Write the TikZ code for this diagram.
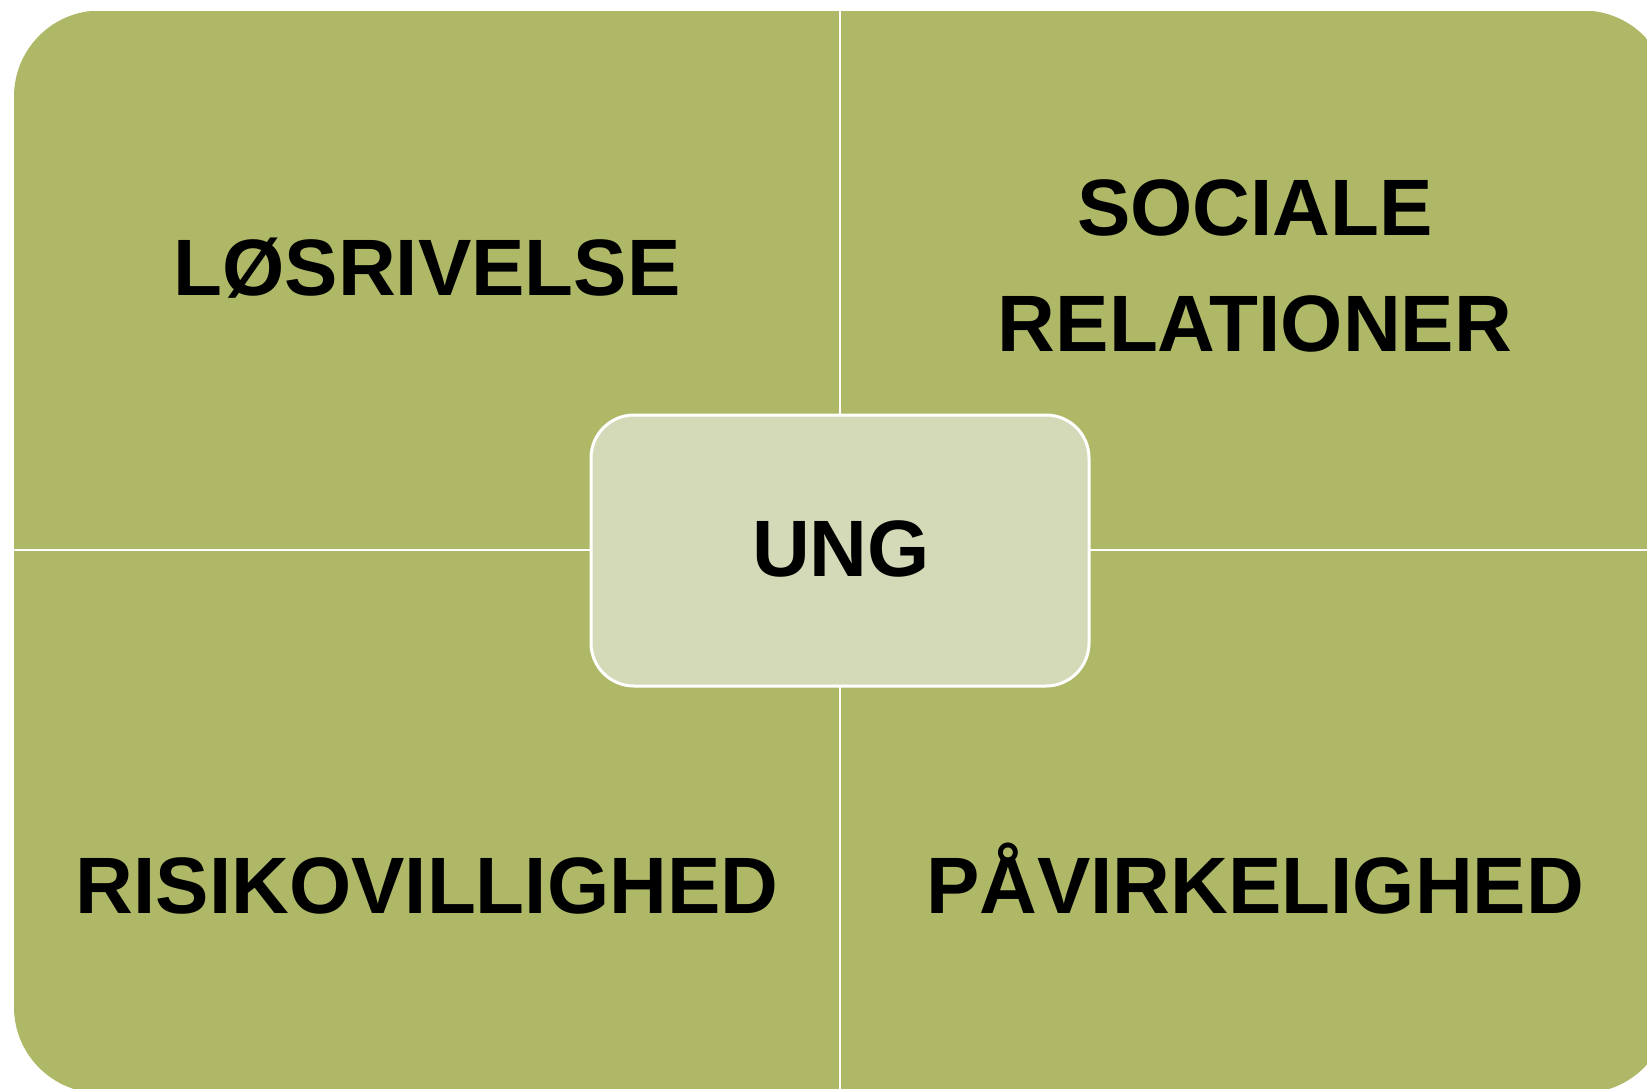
\documentclass[tikz,border=0pt]{standalone}
\usepackage{fontspec}
\setmainfont{Liberation Sans}
\definecolor{quadgreen}{RGB}{175,184,102}
\definecolor{hubgreen}{RGB}{212,218,184}

\begin{document}
\begin{tikzpicture}[x=0.5pt, y=-0.5pt,
		lbl/.style={inner sep=0pt, font=\fontsize{40pt}{58pt}\selectfont\bfseries, align=center},
		gap/.style={draw=white, line width=1.2pt},
		hub/.style={shape=rectangle, rounded corners=21.5pt, fill=hubgreen, draw=white, line width=1.5pt, minimum width=249pt, minimum height=135.5pt, inner sep=0pt}]
		\useasboundingbox (0,0) rectangle (1647,1088);
		
		\begin{scope}
			\clip[rounded corners=43pt] (14,10.5) rectangle (1669,1093);
			\fill[quadgreen] (14,10.5) rectangle (1669,1093);
		\end{scope}
		
		\coordinate (T) at (840,0);
		\coordinate (B) at (840,1100);
		\coordinate (L) at (0,550);
		\coordinate (R) at (1700,550);
		\path[gap](T) edge (B);
		\path[gap](L) edge (R);
		
		\node[hub] (U) at (840,550.5) {};
		\node[lbl, anchor=base] (UNG) at (841,576) {UNG};
		
		\node[lbl, anchor=base] (Q1) at (427,295) {LØSRIVELSE};
		\node[lbl] (Q2) at (1255,266) {SOCIALE\\RELATIONER};
		\node[lbl, anchor=base] (Q3) at (427,913) {RISIKOVILLIGHED};
		\node[lbl, anchor=base] (Q4) at (1255,913) {PÅVIRKELIGHED};
		
	\end{tikzpicture}
\end{document}
